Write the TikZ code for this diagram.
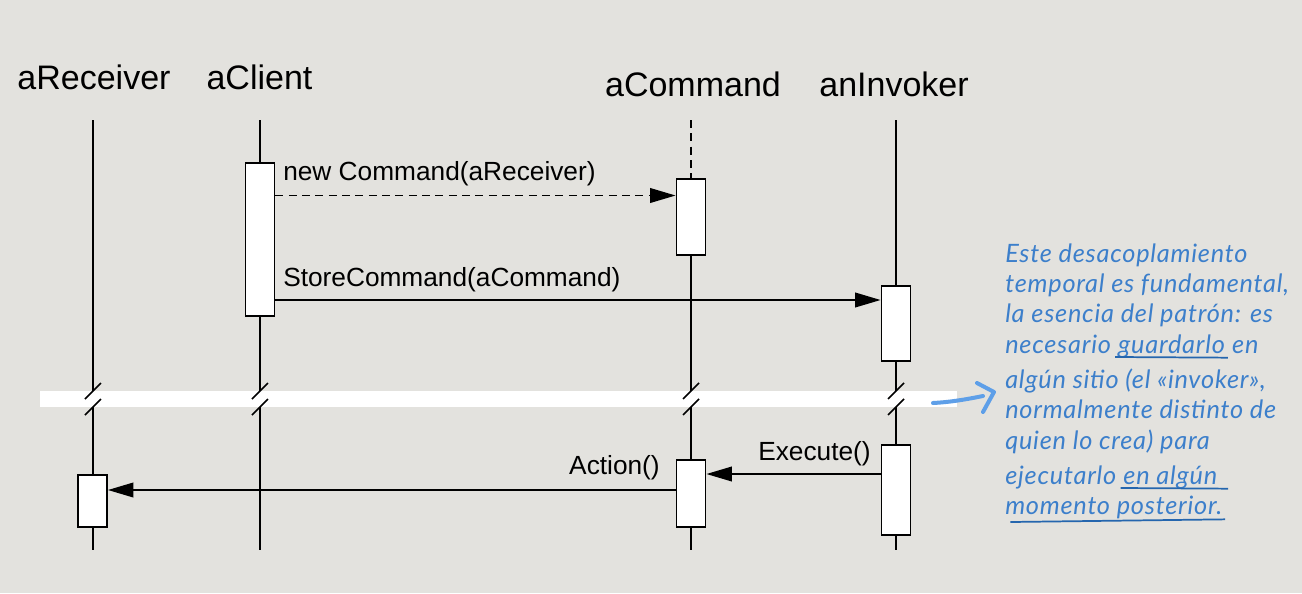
\documentclass[tikz,border=0pt]{standalone}
\usepackage{fontspec}
\setmainfont{Liberation Sans}
\newfontfamily\notefont[LetterSpace=3]{Lato}
\usetikzlibrary{arrows.meta}
\definecolor{bg}{HTML}{E3E2DE}
\definecolor{notetxt}{HTML}{3C7FCB}
\definecolor{noteline}{HTML}{2566AE}
\definecolor{notearr}{HTML}{5E9FE8}
\tikzset{
  lifeline/.style={line width=1.1pt},
  act/.style={draw, line width=1.2pt, fill=white, minimum width=22pt, inner sep=0pt},
  title/.style={font=\fontsize{25.5}{30}\selectfont, inner sep=0pt, anchor=base},
  msg/.style={font=\fontsize{19.7}{23}\selectfont, inner sep=0pt},
  call/.style={line width=1.1pt, -{Triangle[length=19pt,width=11pt]}},
  brk/.style={line width=1.1pt},
  note/.style={font=\notefont\itshape\fontsize{19}{22}\selectfont, text=notetxt, inner sep=0pt, anchor=base west},
  uline/.style={noteline, line width=1.3pt},
  narrow/.style={notearr, line width=3pt, line cap=round, line join=round}
}
\begin{document}
\begin{tikzpicture}[x=0.75pt,y=-0.75pt]
\useasboundingbox[fill=bg] (0,0) rectangle (1302,593);
% titles
\node[title] (tR) at (94,89) {aReceiver};
\node[title] (tC) at (259.5,89) {aClient};
\node[title] (tM) at (693,96) {aCommand};
\node[title] (tI) at (894,96) {anInvoker};
% lifeline ends
\coordinate (Rtop) at (93,120); \coordinate (Rbot) at (93,550);
\coordinate (Ctop) at (260,120); \coordinate (Cbot) at (260,550);
\coordinate (Mtop) at (691,120); \coordinate (Mbot) at (691,550);
\coordinate (Itop) at (896,120); \coordinate (Ibot) at (896,550);
\draw[lifeline] (Rtop) -- (Rbot);
\draw[lifeline] (Ctop) -- (Cbot);
\draw[lifeline] (Itop) -- (Ibot);
% activation boxes
\node[act, minimum height=114.75pt] (C1) at (260,239.5) {};
\node[act, minimum height=57pt] (M1) at (691,217) {};
\node[act, minimum height=50.25pt] (M2) at (691,493.5) {};
\node[act, minimum height=56.25pt] (I1) at (896,323.5) {};
\node[act, minimum height=67.5pt] (I2) at (896,490) {};
\node[act, minimum height=39pt] (R1) at (92.5,501) {};
\draw[lifeline, dash pattern=on 6pt off 4pt] (Mtop) -- (M1.north);
\draw[lifeline] (M1.south) -- (M2.north);
\draw[lifeline] (M2.south) -- (Mbot);
% message levels
\coordinate (y1) at (0,195.5);
\coordinate (y2) at (0,300);
\coordinate (y3) at (0,474);
\coordinate (y4) at (0,490);
\draw[call, dash pattern=on 6pt off 4pt] (C1.east |- y1) -- (M1.west |- y1);
\draw[call] (C1.east |- y2) -- (I1.west |- y2);
\draw[call] (I2.west |- y3) -- (M2.east |- y3);
\draw[call] (M2.west |- y4) -- (R1.east |- y4);
\node[msg, anchor=base west] (l1) at (283,180) {new Command(aReceiver)};
\node[msg, anchor=base west] (l2) at (283,286) {StoreCommand(aCommand)};
\node[msg, anchor=base east] (l3) at (871,460) {Execute()};
\node[msg, anchor=base east] (l4) at (660,474) {Action()};
% time break band
\fill[white] (40,391) rectangle (957,407);
\foreach \x in {93,260,691,896}{
  \draw[brk] (\x-8,399) -- (\x+8,383);
  \draw[brk] (\x-8,415) -- (\x+8,399);
}
% note arrow
\coordinate (na) at (933,403);
\coordinate (nb) at (983,396);
\coordinate (nt) at (994,392);
\draw[narrow] (na) .. controls (952,402) and (968,399) .. (nb);
\draw[narrow] (977,383) -- (nt) -- (983,412);
% note text
\node[note] (n1) at (1005,262) {Este desacoplamiento};
\node[note] (n2) at (1005,292) {temporal es fundamental,};
\node[note] (n3) at (1005,322) {la esencia del patrón: es};
\node[note] (n4) at (1005,353) {necesario};
\node[note] (n4b) at ([xshift=5pt]n4.base east) {guardarlo};
\node[note] (n4c) at ([xshift=5pt]n4b.base east) {en};
\node[note] (n5) at (1005,388) {algún sitio (el «invoker»,};
\node[note] (n6) at (1005,418) {normalmente distinto de};
\node[note] (n7) at (1005,449) {quien lo crea) para};
\node[note] (n8) at (1005,484) {ejecutarlo};
\node[note] (n8b) at ([xshift=5pt]n8.base east) {en algún};
\node[note] (n9) at (1005,514) {momento posterior.};
\draw[uline] ([xshift=-2pt,yshift=-3pt]n4b.base west) -- ([xshift=2pt,yshift=-3.5pt]n4b.base east);
\draw[uline] ([xshift=-2pt,yshift=-3pt]n8b.base west) -- ([xshift=8pt,yshift=-3.5pt]n8b.base east);
\draw[uline] ([xshift=4pt,yshift=-6pt]n9.base west) -- ([xshift=2pt,yshift=-4pt]n9.base east);
\end{tikzpicture}
\end{document}
